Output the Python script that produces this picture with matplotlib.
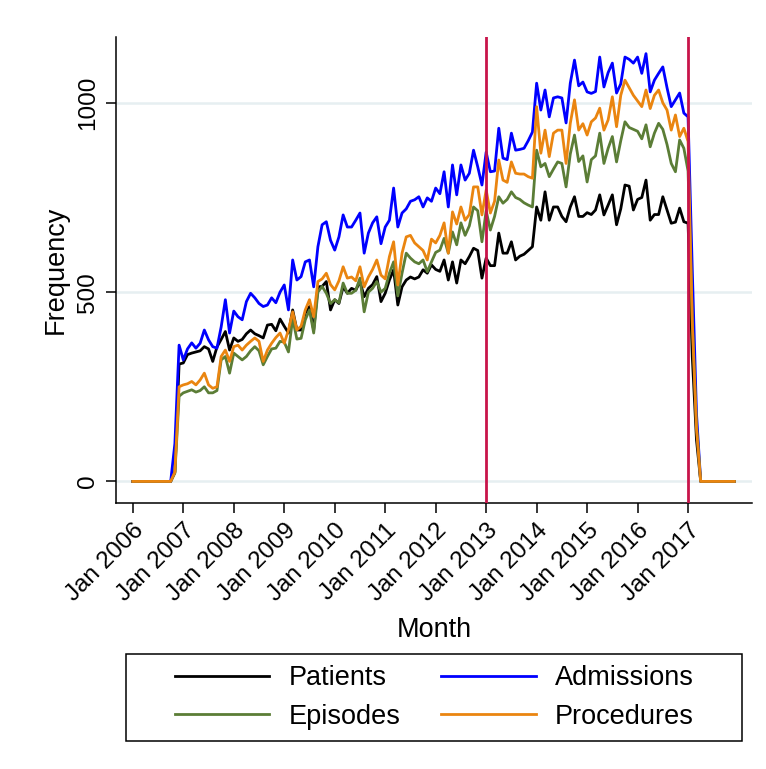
import matplotlib
matplotlib.use("Agg")
import matplotlib.pyplot as plt
from matplotlib.patches import Rectangle

plt.rcParams["font.family"] = ["Liberation Sans", "DejaVu Sans"]

# Monthly counts, January 2006 to December 2017 (one row per year)
patients = [
    0, 0, 0, 0, 0, 0, 0, 0, 0, 0, 25, 310,
    313, 335, 339, 342, 345, 356, 350, 317, 355, 375, 396, 347,
    379, 370, 375, 390, 400, 390, 385, 379, 413, 415, 398, 429,
    410, 392, 453, 400, 400, 445, 462, 400, 514, 515, 528, 453,
    480, 470, 514, 497, 510, 505, 528, 488, 510, 520, 541, 475,
    497, 532, 559, 466, 514, 532, 540, 535, 540, 559, 550, 572,
    560, 555, 585, 532, 580, 524, 585, 575, 594, 616, 610, 537,
    590, 570, 570, 656, 603, 603, 633, 585, 595, 600, 610, 620,
    725, 690, 765, 690, 725, 725, 700, 686, 725, 752, 700, 700,
    710, 705, 717, 757, 704, 730, 757, 678, 720, 783, 780, 717,
    745, 750, 796, 690, 705, 705, 752, 717, 682, 685, 722, 686,
    682, 330, 110, 0, 0, 0, 0, 0, 0, 0, 0, 0,
]

admissions = [
    0, 0, 0, 0, 0, 0, 0, 0, 0, 0, 100, 360,
    321, 350, 366, 352, 365, 400, 374, 356, 352, 408, 480, 392,
    450, 435, 427, 475, 497, 485, 470, 462, 466, 485, 472, 500,
    519, 453, 585, 532, 541, 580, 585, 514, 620, 678, 686, 637,
    611, 646, 704, 672, 672, 690, 709, 603, 656, 683, 699, 628,
    672, 690, 775, 672, 709, 720, 740, 744, 752, 725, 749, 740,
    775, 760, 818, 725, 836, 757, 836, 796, 814, 875, 831, 783,
    870, 818, 820, 933, 854, 850, 920, 875, 877, 880, 900, 923,
    1052, 981, 1034, 963, 1013, 1016, 1013, 947, 1052, 1113, 1045, 1055,
    1029, 1025, 1030, 1121, 1042, 1080, 1105, 1026, 1050, 1121, 1115, 1105,
    1121, 1078, 1130, 1029, 1060, 1078, 1095, 1040, 990, 1008, 1026, 973,
    963, 560, 180, 0, 0, 0, 0, 0, 0, 0, 0, 0,
]

episodes = [
    0, 0, 0, 0, 0, 0, 0, 0, 0, 0, 22, 225,
    234, 238, 242, 236, 240, 250, 234, 234, 240, 321, 330, 286,
    339, 330, 321, 330, 345, 356, 345, 308, 330, 350, 352, 370,
    368, 342, 430, 376, 378, 427, 453, 392, 500, 515, 497, 470,
    480, 472, 524, 497, 497, 505, 537, 448, 500, 510, 528, 500,
    510, 550, 580, 490, 550, 603, 590, 580, 575, 585, 554, 580,
    605, 611, 642, 603, 659, 625, 683, 650, 675, 725, 715, 633,
    715, 664, 700, 752, 735, 745, 765, 750, 745, 736, 730, 725,
    875, 831, 840, 805, 825, 844, 840, 778, 865, 915, 845, 860,
    791, 850, 860, 920, 840, 880, 911, 844, 900, 950, 935, 930,
    925, 905, 942, 884, 920, 946, 930, 890, 840, 818, 902, 880,
    820, 430, 150, 0, 0, 0, 0, 0, 0, 0, 0, 0,
]

procedures = [
    0, 0, 0, 0, 0, 0, 0, 0, 0, 0, 25, 250,
    255, 258, 264, 255, 268, 286, 255, 246, 250, 330, 347, 317,
    356, 360, 347, 360, 370, 379, 370, 317, 347, 365, 380, 392,
    365, 400, 448, 400, 410, 453, 480, 435, 528, 535, 550, 520,
    506, 530, 567, 537, 540, 530, 567, 514, 540, 560, 585, 545,
    535, 594, 633, 519, 603, 646, 650, 630, 620, 610, 585, 640,
    630, 650, 683, 603, 712, 680, 725, 690, 705, 778, 778, 704,
    770, 709, 740, 849, 796, 790, 844, 814, 812, 812, 805, 801,
    990, 867, 928, 858, 920, 928, 928, 840, 946, 1008, 928, 945,
    915, 950, 960, 986, 928, 955, 1016, 937, 1020, 1060, 1040, 1020,
    1005, 990, 1034, 985, 1020, 1034, 1000, 981, 928, 968, 911, 933,
    898, 420, 140, 0, 0, 0, 0, 0, 0, 0, 0, 0,
]

tick_years = list(range(2006, 2018))
tick_labels = [f"Jan {y}" for y in tick_years]
marker_years = [2013, 2017]
y_ticks = [0, 500, 1000]

# month index counted from January 2006
months = list(range(len(patients)))
tick_pos = [(y - 2006) * 12 for y in tick_years]
marker_pos = [(y - 2006) * 12 for y in marker_years]

W, H = 766, 769
fig = plt.figure(figsize=(W / 100, H / 100), dpi=100)
ax = fig.add_axes([116 / W, 1 - 503 / H, (752 - 116) / W, (503 - 37) / H])

for v in y_ticks:
    ax.axhline(v, color="#e6eff1", lw=1.8, zorder=0)

lw = 2.0
l_pat, = ax.plot(months, patients, color="black", lw=lw, label="Patients", zorder=2)
l_adm, = ax.plot(months, admissions, color="#0000ff", lw=lw, label="Admissions", zorder=2)
l_epi, = ax.plot(months, episodes, color="#5b7d36", lw=lw, label="Episodes", zorder=2)
l_pro, = ax.plot(months, procedures, color="#ea8510", lw=lw, label="Procedures", zorder=2)

for xp in marker_pos:
    ax.axvline(xp, color="#c8144a", lw=2.0, zorder=3)

ax.set_xlim(-4.0, 147.2)
ax.set_ylim(-57, 1174)

for s in ["top", "right"]:
    ax.spines[s].set_visible(False)
for s in ["left", "bottom"]:
    ax.spines[s].set_linewidth(1.1)

ax.set_xticks(tick_pos)
ax.set_xticklabels(tick_labels, fontsize=17.5)
for lab in ax.get_xticklabels():
    lab.set_rotation(45)
    lab.set_ha("right")
    lab.set_rotation_mode("anchor")

ax.set_yticks(y_ticks)
ax.set_yticklabels([str(v) for v in y_ticks], fontsize=17.5)
for lab in ax.get_yticklabels():
    lab.set_rotation(90)
    lab.set_va("center")

ax.tick_params(axis="both", length=7, width=1.1, pad=5)

ax.set_xlabel("Month", fontsize=19.5, labelpad=8)
ax.set_ylabel("Frequency", fontsize=19.5, labelpad=6)

# legend with its own outer frame
fig.patches.append(Rectangle((126 / W, 1 - 741 / H), (742 - 126) / W, (741 - 654) / H,
                             transform=fig.transFigure, fill=False, edgecolor="black",
                             lw=1.1))
fig.legend([l_pat, l_epi, l_adm, l_pro], ["Patients", "Episodes", "Admissions", "Procedures"],
           ncol=2, loc="center", bbox_to_anchor=(434 / W, 1 - 697.5 / H),
           frameon=False, fontsize=19.5, handlelength=3.5, handletextpad=0.7,
           columnspacing=1.5, labelspacing=0.45)

fig.savefig("out.png", dpi=100)
